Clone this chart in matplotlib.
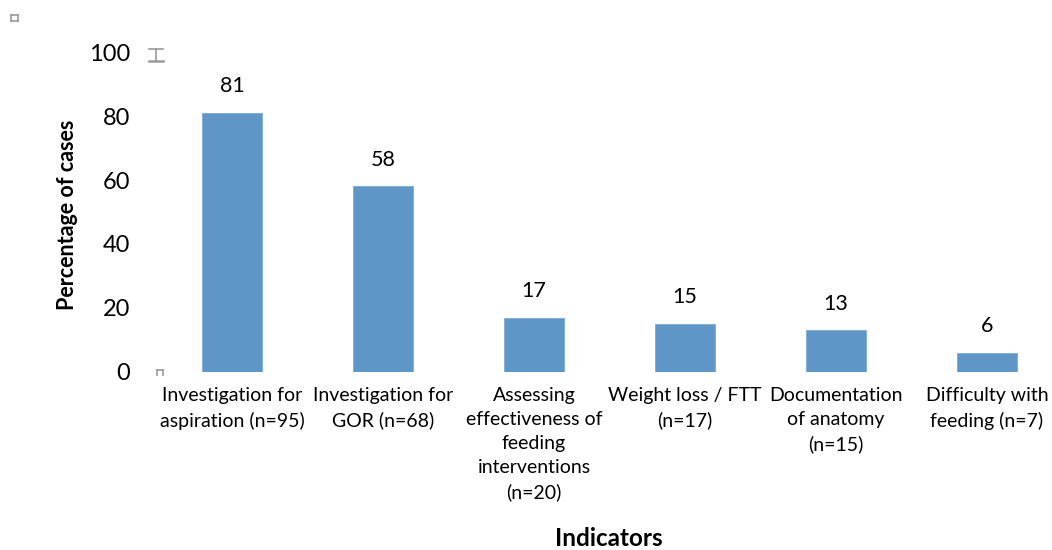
import matplotlib
matplotlib.use("Agg")
import matplotlib.pyplot as plt
from matplotlib.lines import Line2D

categories = [
    "Investigation for\naspiration (n=95)",
    "Investigation for\nGOR (n=68)",
    "Assessing\neffectiveness of\nfeeding\ninterventions\n(n=20)",
    "Weight loss / FTT\n(n=17)",
    "Documentation\nof anatomy\n(n=15)",
    "Difficulty with\nfeeding (n=7)",
]
percentages = [81, 58, 17, 15, 13, 6]
y_ticks = [0, 20, 40, 60, 80, 100]

FONT = ["Lato", "DejaVu Sans"]
plt.rcParams["font.family"] = FONT

fig = plt.figure(figsize=(10.52, 5.5), dpi=100)
ax = fig.add_axes([156.5 / 1052, 178 / 550, 906 / 1052, 320 / 550])

x = list(range(len(categories)))
bars = ax.bar(x, percentages, width=0.4, color="#5F96C8", edgecolor="#7AAAD6", linewidth=0.6)

for rect, val in zip(bars, percentages):
    ax.annotate(str(val), (rect.get_x() + rect.get_width() / 2, rect.get_height()),
                xytext=(0, 12), textcoords="offset points", ha="center", va="bottom",
                fontsize=15.5, color="black")

ax.set_xlim(-0.5, len(categories) - 0.5)
ax.set_ylim(0, 100)
ax.set_yticks(y_ticks)
ax.set_yticklabels([str(t) for t in y_ticks], fontsize=17)
ax.set_xticks(x)
ax.set_xticklabels(categories, fontsize=14, linespacing=1.5, va="top")
ax.tick_params(axis="both", length=0)
ax.tick_params(axis="y", pad=19)
ax.tick_params(axis="x", pad=11)
for s in ax.spines.values():
    s.set_visible(False)

fig.text(68 / 1052, 1 - 215 / 550, "Percentage of cases", rotation=90, ha="center", va="center",
         fontsize=15.5, fontweight="bold")
fig.text(609 / 1052, 1 - 539 / 550, "Indicators", ha="center", va="center",
         fontsize=17.5, fontweight="bold")

# small grey handle glyphs around the plot frame
grey = "#9A9A9A"
def px(xp, yp):
    return xp / 1052, 1 - yp / 550

def seg(x0, y0, x1, y1, lw=1.2):
    (a, b), (c, d) = px(x0, y0), px(x1, y1)
    fig.add_artist(Line2D([a, c], [b, d], color=grey, lw=lw, transform=fig.transFigure))

# square near the top-left corner
seg(11, 15, 18, 15); seg(18, 15, 18, 21); seg(18, 21, 11, 21); seg(11, 21, 11, 15)
# I-beam at the top of the value axis
seg(149, 49, 163, 49); seg(156, 49, 156, 61); seg(149, 61, 163, 61, lw=1.8)
# small arch at the base of the value axis
seg(157, 375, 157, 370); seg(157, 370, 163, 370); seg(163, 370, 163, 375)

fig.savefig("out.png", dpi=100, facecolor="white")
